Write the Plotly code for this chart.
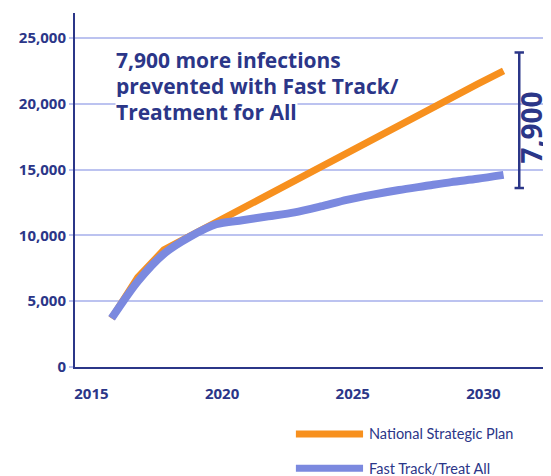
import plotly.graph_objects as go

years = list(range(2016, 2032))
national_plan = [3700, 6800, 8900, 9950, 11000, 12100, 13200, 14250, 15300, 16300,
                 17300, 18350, 19400, 20450, 21500, 22500]
fast_track = [3700, 6500, 8600, 9900, 10850, 11150, 11450, 11750, 12200, 12700,
              13100, 13450, 13750, 14050, 14300, 14600]
y_ticks = [0, 5000, 10000, 15000, 20000, 25000]
x_ticks = [2015, 2020, 2025, 2030]
series_names = ["National Strategic Plan", "Fast Track/Treat All"]
headline = ["7,900 more infections", "prevented with Fast Track/", "Treatment for All"]
gap_label = "7,900"

NAVY = "#2B3688"
ORANGE = "#F7901E"
BLUE = "#7B89DF"
GRID = "#BCC3F0"
FONT = "Open Sans"
LFONT = "Lato"

fig = go.Figure()
fig.add_trace(go.Scatter(x=years, y=national_plan, mode="lines", name=series_names[0],
                         line=dict(color=ORANGE, width=7), showlegend=False))
fig.add_trace(go.Scatter(x=years, y=fast_track, mode="lines", name=series_names[1],
                         line=dict(color=BLUE, width=8, shape="spline", smoothing=0.8),
                         showlegend=False))

# page has an 8px body margin: shrink the figure so it fills the 551x476 window
fig.update_layout(
    width=543, height=468,
    margin=dict(l=67, r=3, t=5, b=109),
    plot_bgcolor="white", paper_bgcolor="white",
    font=dict(family=FONT, color=NAVY),
    xaxis=dict(range=[2014.6, 2032.7], tickvals=x_ticks, showgrid=False, zeroline=False,
               showline=True, linecolor=NAVY, linewidth=2, ticks="",
               ticklabelshift=6, ticklabelstandoff=12,
               tickfont=dict(family=FONT, size=15, color=NAVY, weight="bold")),
    yaxis=dict(range=[0, 26900], tickvals=y_ticks, tickformat=",", showgrid=True,
               gridcolor=GRID, gridwidth=1.5, zeroline=False,
               showline=True, linecolor=NAVY, linewidth=2,
               ticks="outside", ticklen=4, tickcolor=GRID, tickwidth=1.5,
               tickfont=dict(family=FONT, size=15, color=NAVY, weight="bold")),
)

# headline text (last line first so the white backing sits beneath the others)
for i in reversed(range(len(headline))):
    fig.add_annotation(x=0.085, y=0.867 - i * 0.074, xref="paper", yref="paper",
                       xanchor="left", yanchor="middle", text=headline[i], showarrow=False,
                       bgcolor="white" if i == 2 else "rgba(0,0,0,0)",
                       borderpad=0, height=22,
                       font=dict(family=FONT, size=21, color=NAVY, weight="bold"))

# bracket showing the gap at the final year
top = national_plan[-1] + 1400
bot = fast_track[-1] - 1000
xb = years[-1] + 0.6
fig.add_shape(type="line", x0=xb, x1=xb, y0=bot, y1=top, xref="x", yref="y",
              line=dict(color=NAVY, width=2.5))
for yv in (top, bot):
    fig.add_shape(type="line", x0=xb - 0.18, x1=xb + 0.18, y0=yv, y1=yv,
                  xref="x", yref="y", line=dict(color=NAVY, width=2.5))
fig.add_annotation(x=xb + 0.45, y=(top + bot) / 2 - 550, xref="x", yref="y",
                   text=gap_label, textangle=-90, showarrow=False,
                   font=dict(family=FONT, size=28, color=NAVY, weight="bold"))

# legend drawn under the chart
colors = [ORANGE, BLUE]
for i, name in enumerate(series_names):
    yy = -0.189 - i * 0.097
    fig.add_shape(type="line", xref="paper", yref="paper", x0=0.467, x1=0.609,
                  y0=yy, y1=yy, line=dict(color=colors[i], width=7))
    fig.add_annotation(x=0.617, y=yy, xref="paper", yref="paper", xanchor="left",
                       yanchor="middle", text=name, showarrow=False,
                       font=dict(family=LFONT, size=14.5, color=NAVY))

fig.write_html("out.html")
